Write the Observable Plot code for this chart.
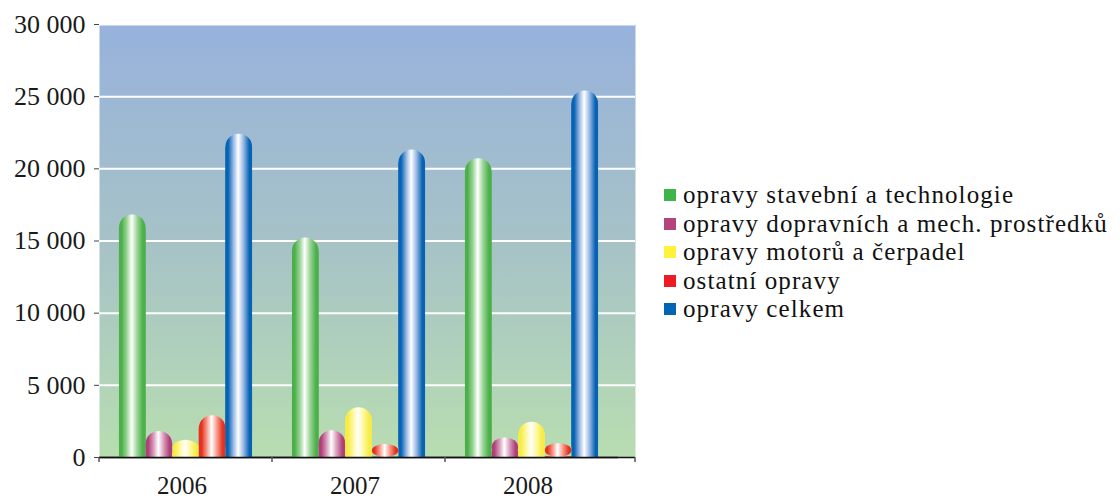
<!DOCTYPE html>
<html>
<head>
<meta charset="utf-8">
<script src="https://cdn.jsdelivr.net/npm/d3@7"></script>
<script src="https://cdn.jsdelivr.net/npm/@observablehq/plot@0.6"></script>
<style>
  body { margin: 0; background: #ffffff; }
  #wrap { position: relative; width: 1120px; height: 501px; }
  #wrap svg { position: absolute; left: 0; top: 0; }
  #legend { position: absolute; left: 664px; top: 181px; font-family: "Liberation Serif", "Times New Roman", Times, serif; font-size: 25px; line-height: 28.5px; color: #111; letter-spacing: 1.1px; }
  .item { white-space: nowrap; display: flex; align-items: center; }
  .sw { display: inline-block; width: 12px; height: 12px; margin-right: 7px; flex: none; }
</style>
</head>
<body>
<div id="wrap"><div id="legend"></div></div>
<script>
const years = ["2006", "2007", "2008"];
const series = [
  "opravy stavební a technologie",
  "opravy dopravních a mech. prostředků",
  "opravy motorů a čerpadel",
  "ostatní opravy",
  "opravy celkem"
];
const stavebni = [16800, 15200, 20700];
const dopravni = [1800, 1850, 1350];
const motory   = [1200, 3450, 2450];
const ostatni  = [2900, 900, 950];
const celkem   = [22400, 21300, 25400];
const yTicks = [0, 5000, 10000, 15000, 20000, 25000, 30000];

const legendColors = ["#3db54a", "#b4457a", "#fff23a", "#ed1c24", "#0066b3"];
const barEdge  = ["#4cb04a", "#ad4079", "#f6ec45", "#e5301e", "#0662b3"];
const barLight = ["#9bd598", "#d89cba", "#fff8a0", "#f69a8c", "#98b8e4"];

const seriesValues = [stavebni, dopravni, motory, ostatni, celkem];
const rows = [];
years.forEach((yr, i) => series.forEach((s, k) => rows.push({year: yr, series: s, value: seriesValues[k][i]})));

const fmt = d => d3.format(",")(d).replace(/,/g, "\u00a0");

const dims = {width: 1120, height: 501, marginTop: 24, marginBottom: 44, marginLeft: 99, marginRight: 485};
const style = {fontFamily: "'Liberation Serif', 'Times New Roman', Times, serif", background: "transparent", color: "#1a1a1a", overflow: "visible"};

// Layer 1: background, grid, y axis
const back = Plot.plot({
  ...dims,
  style,
  y: {domain: [0, 30000], label: null},
  marks: [
    Plot.frame({fill: "url(#bg)", stroke: "none"}),
    Plot.ruleY(yTicks.filter(d => d > 0), {stroke: "#ffffff", strokeWidth: 2}),
    Plot.ruleY([0], {stroke: "#111", strokeWidth: 1.5}),
    Plot.axisY({ticks: yTicks, tickFormat: fmt, tickSize: 5, tickPadding: 9, fontSize: 26, label: null, stroke: "#444"})
  ]
});
const bsvg = d3.select(back);
const bdefs = bsvg.insert("defs", ":first-child");
const bg = bdefs.append("linearGradient").attr("id", "bg").attr("x1", 0).attr("y1", 0).attr("x2", 0).attr("y2", 1);
[["0%", "#97b2dc"], ["50%", "#a6c2c7"], ["100%", "#b8ddb0"]].forEach(([o, c]) => bg.append("stop").attr("offset", o).attr("stop-color", c));

// Layer 2: grouped bars, faceted by year
const chart = Plot.plot({
  ...dims,
  style,
  fx: {domain: years, padding: 0, insetRight: 17, round: false, label: null},
  x: {domain: series, paddingInner: 0, paddingOuter: 0.75, round: false, axis: null},
  y: {domain: [0, 30000], label: null, axis: null},
  color: {domain: series, range: series.map((_, i) => `url(#bar${i})`)},
  marks: [
    Plot.barY(rows, {fx: "year", x: "series", y: "value", fill: "series", rx: 13}),
    Plot.barY(rows, {fx: "year", x: "series", y: "value", fill: "series", insetTop: 13}),
    Plot.ruleY([0], {stroke: "#111", strokeWidth: 1.5}),
    Plot.axisFx({anchor: "bottom", tickSize: 0, tickPadding: 19, fontSize: 25, dx: -4, label: null})
  ]
});
const svg = d3.select(chart);
const defs = svg.insert("defs", ":first-child");
series.forEach((s, i) => {
  const g = defs.append("linearGradient").attr("id", `bar${i}`).attr("x1", 0).attr("y1", 0).attr("x2", 1).attr("y2", 0);
  [["0%", barEdge[i]], ["10%", barEdge[i]], ["30%", barLight[i]], ["48%", "#ffffff"], ["68%", barLight[i]], ["90%", barEdge[i]], ["100%", barEdge[i]]]
    .forEach(([o, c]) => g.append("stop").attr("offset", o).attr("stop-color", c));
});

// category boundary ticks, from the fx scale
const fxs = chart.scale("fx");
const y0 = chart.scale("y").apply(0);
const edges = years.map(y => fxs.apply(y)).concat([dims.width - dims.marginRight]);
svg.append("g").selectAll("line").data(edges).join("line")
  .attr("x1", d => d).attr("x2", d => d).attr("y1", y0).attr("y2", y0 + 5)
  .attr("stroke", "#555").attr("stroke-width", 1.5);

const wrap = document.getElementById("wrap");
wrap.prepend(chart);
wrap.prepend(back);

const legend = document.getElementById("legend");
series.forEach((s, i) => {
  const it = document.createElement("div");
  it.className = "item";
  const sw = document.createElement("span");
  sw.className = "sw";
  sw.style.background = legendColors[i];
  it.appendChild(sw);
  it.appendChild(document.createTextNode(s));
  legend.appendChild(it);
});
</script>
</body>
</html>
